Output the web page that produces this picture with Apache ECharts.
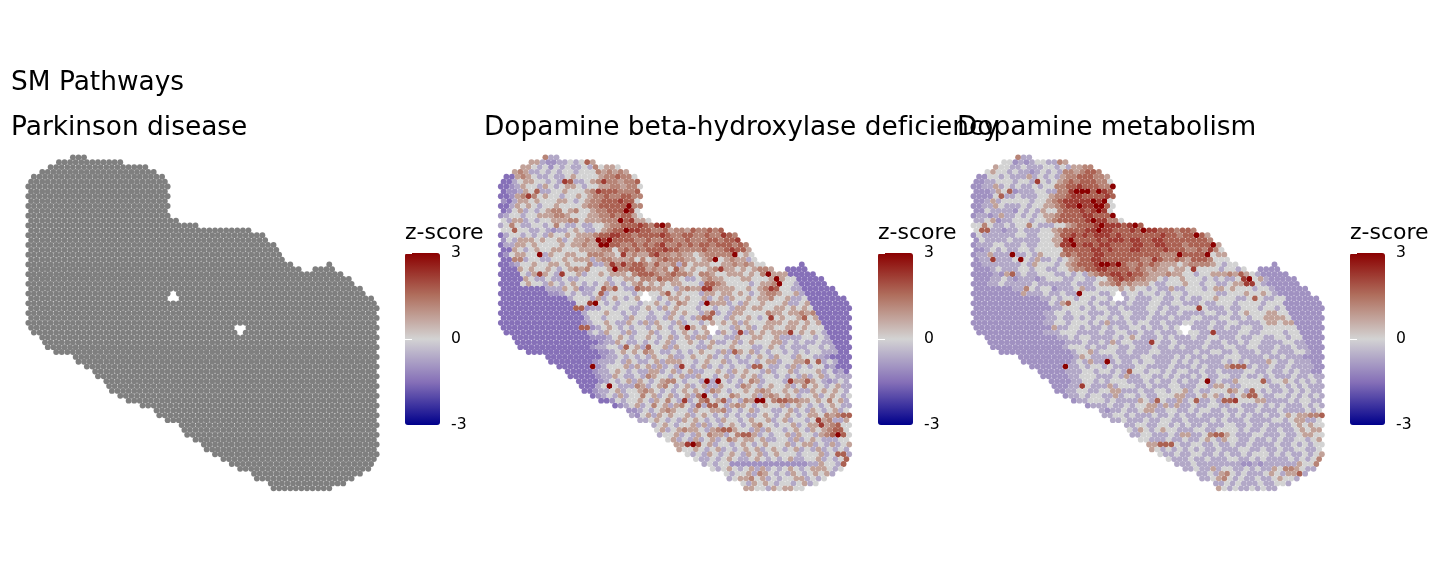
<!DOCTYPE html>
<html>
<head>
<meta charset="utf-8">
<style>html,body{margin:0;padding:0;background:#fff}#c{width:1440px;height:576px}</style>
<script src="https://cdn.jsdelivr.net/npm/echarts@6/dist/echarts.min.js"></script>
</head>
<body>
<div id="c"></div>
<script>
const pageTitle = "SM Pathways";
const panelTitles = ["Parkinson disease", "Dopamine beta-hydroxylase deficiency", "Dopamine metabolism"];
const legendTitle = "z-score";
const zLevels = [-2.2, -1.5, -1, -0.65, 0, 0.75, 1.2, 1.7, 2.2, 3];
const rowSpans = [[16,20],[11,33],[8,42],[5,45],[2,48],[1,49],[0,50],[1,49],[0,50],[1,49],[0,50],[1,49],[0,50],[1,53],[0,60],[1,79],[0,84],[1,85],[0,88],[1,89],[0,90],[1,91],[0,94,108,108],[1,97,103,109],[0,112],[1,115],[0,116],[1,119],[0,120],[1,123],[0,124],[1,125],[0,124],[1,125],[0,124],[1,125],[2,124],[5,125],[6,124],[7,125],[10,124],[17,125],[18,124],[21,125],[24,124],[25,125],[28,124],[29,125],[30,124],[33,125],[36,124],[41,125],[46,124],[47,125],[50,124],[55,125],[56,124],[57,125],[60,124],[63,125],[64,124],[67,125],[70,124],[73,123],[76,122],[81,119],[82,116],[87,113],[88,108]];
const holes = [[28,52],[29,51],[29,53],[35,75],[35,77],[36,76]];
const panel2Rows = ["633","5532233434 75","5543424343 34364554","5653343434 4344465656 5","1156543343 3454444566 7664","1134554434 3473345666 65667","1123544354 3455434455 665664","1223545334 4544456677 76667","1125676454 4344545667 667766","2135545444 5543456677 78774","1135454344 5444456677 777866","1245343456 6456445667 77784","2344344555 6654445566 767754","4355343445 5566455566 6778554","3464334434 6433433445 6677787667 7","4474433432 3345433456 7777877667 5665766767","1344343435 4454555677 8877677778 7667766766 776","2435554544 5345565689 7777667667 7667666776 776","1335545444 4545565589 7766767678 6676767767 77666","1154345445 5444555566 4676767778 7766667666 76775","1245544435 4455446665 5465655786 6565545666 667454","1166344334 4545553566 5556464567 6665545654 565534","1123445445 5454446335 4686776575 5636455544 55656544 1","1115454454 3456564445 5667775656 4554544564 554545665 1111","1111435854 3444534454 5554677665 6766546654 4555454655 5511111","1111543343 3433444443 4455466576 6543345655 4445544455 54411111","1111454435 4345434345 3434564545 4554443466 5444434556 544311111","1111111133 3545233475 4433466554 4356553455 5544545665 4433111111","1111111112 2343433473 4444345445 4454443554 5545434566 54453111111","1111111111 1134443534 5434544434 5545445345 3544545564 453341111111","1111111111 1111448843 4344434454 3465443455 5343544544 4533451111111","1111111111 1111723344 3443345435 4544434434 4355455445 5454541111111","1111111111 1111134445 4434344344 3545443543 4355444465 5455656111111","1111111111 1111134434 4435443343 5434354344 3544543454 5445745111111","1111111111 1111123445 4335435354 4353443454 5453544455 5455454511111","1111111111 1111172345 4343443454 3453545344 4354534554 4554544411111","1111111111 1111134354 4353445344 3454345635 4353545455 544545431111","1111111111 1111222345 4344543453 4535534433 5445544533 33443431111","1111111111 1111123354 3343434534 4543453345 3454445534 3433433111","1111111111 1112334435 4537445354 4433544454 4433454343 3344343111","1111111111 1112234545 4654334343 4544353754 5343443434 34433311","1111111111 2334343435 4453345445 3434343454 3544354433 21111","1111111123 3343543345 3555443454 4534334345 5344553473 4311","1111111234 4453545353 4344345343 4344377433 4353434423 111","1111123345 4343355345 3453344543 5454435344 5344453423 1","1111123354 3343654434 5335443453 4545344343 4353453433 3","1111234345 3543456643 4435344343 4653444345 575432343","1113454333 6534564345 3453354436 5434544534 645434533","1123345344 5654343454 5436543445 4565445453 35454543","1234353446 4534534536 5434465445 3565454344 5345434","1124344543 5464353467 4563436545 4677665545 46453","1234534645 3564373434 3565434544 5345434345 433","2234345654 4354455634 3453443345 3435434534","3245354544 5345434343 4334543454 3455465676","3345434354 5434354434 5445345344 34656335","3454344535 3434543456 4434453455 456744","4534565543 5676544353 5443454354 56774","3445343546 5534677534 3445354435 66974","4534353453 4654554533 4435345433 344","5557745344 3454345444 5345534353 45","5445434534 3454534543 4534353434 3","4343543454 3545345444 3444534373","4334345433 4543434533 44534347","3434422222 2222222223 354436","4345434535 3434543455 5434","4344536543 4354345453","3455645343 44553434","4354543443 4534","5544354554 4"];
const panel2Spots = [[20,14,9],[8,10,8],[7,13,7],[5,23,8],[7,35,8],[5,37,8],[9,43,8],[10,46,9],[11,45,9],[13,43,9],[14,58,9],[14,56,8],[14,45,8],[15,45,9],[15,47,8],[17,35,9],[18,36,9],[20,44,8],[22,40,8],[23,41,9],[16,80,8],[17,85,8],[18,86,7],[19,83,8],[20,84,9],[21,77,9],[23,79,8],[23,63,7],[24,96,9],[25,99,9],[26,100,9],[27,97,8],[27,99,7],[30,74,9],[33,97,8],[35,67,9],[27,73,8],[27,75,8],[26,74,7],[26,76,7],[32,76,7],[33,73,7],[33,75,7],[36,86,8],[36,104,8],[43,65,8],[46,74,9],[46,78,9],[49,73,9],[50,66,8],[50,92,9],[50,94,9],[51,75,7],[51,77,7],[50,80,7],[54,114,8],[55,115,8],[56,117,7],[57,121,9],[57,119,7],[56,120,7],[59,67,8],[59,69,9],[53,125,7],[57,87,7],[57,89,7],[56,89,7],[43,91,7],[43,93,7],[42,110,7],[46,104,8],[56,82,7],[61,121,7],[63,123,7],[24,22,8],[27,49,7],[27,41,7],[30,32,8],[30,34,9],[31,27,7],[35,29,7],[43,33,9],[47,39,9],[39,45,7],[28,60,7],[24,54,7]];
const panel3Rows = ["633","4423234433 65","5443343334 43435566","4544343323 4343665677 6","2244343335 3434356677 7665","2233444344 3443456767 77664","2233534343 3434466778 777667","2223544233 3443366888 77787","2222463343 3344566788 777787","2235344444 3445678888 88884","2233543334 3445567888 888874","2243333243 4354467778 78884","2332353343 4345567777 887777","3345233444 3445677777 8788664","4464334344 6433344567 7778888777 7","4473323343 3344567777 8888877787 7887776776","2433333344 3344457787 8788878777 7777877677 775","2433334333 3344558877 7787887788 7788777777 776","2333443334 3344458877 8878877778 7778877767 77765","2234343344 3444447777 7887877788 7777877766 76664","2335333433 4354446767 7788777777 7777666677 774455","2333333444 3533434567 7887777777 6667667657 776444","2233333334 3544434567 7788788766 7676555456 66654344 2","2223433344 3443344566 7788777767 6565545545 444434434 2222","2222325734 3344433434 3567788787 7655565544 3445556555 4322222","2223343233 3234443344 3344678776 6554344544 4343433455 45322222","2223343333 3433333343 3345567565 5543344454 4344334556 443222222","2222222333 4344233345 3344445454 4343353344 4345545444 3443222222","2222222225 3334334334 4443343344 3443434434 4444334445 44543222222","2222222222 2233434434 4344344343 3344334343 3445444334 443344222222","2222222222 2222435344 4343343343 3344334433 3433444344 4434442222222","2222222222 2222334443 4344334333 3443433444 3433343344 4344342222222","2222222222 2223344344 4333433443 3343433433 3344334345 4445544222222","2222222222 2223343343 4344343433 3433343334 4333443343 4455554222222","2222222222 2223344344 4343533343 4433433344 3334334433 3345545522222","2222222222 2222533443 4334343344 3433434433 3343343344 3344444422222","2222222222 2233344433 3343344334 3343334344 3353333443 344443442222","2222222222 2223343443 3334345433 3434333433 4433343344 33443442222","2222222222 2222333433 4353443333 4334333334 3343343443 3334433222","2222222222 2223444343 3443343334 3343433343 3344334433 3433433222","2222222222 2223445344 4334333443 3333343344 3343334334 33344322","2222222222 3543333433 3344333343 4334333444 3333433433 32222","2222222223 4353343433 4344333434 3433334343 4333543343 3322","2222222334 3443433334 4333343334 3433355533 4334334333 322","2222233344 3443433443 4434344334 3343333443 3433434332 2","2222233444 3334353344 3343433434 3344334334 3433343343 3","2222334434 3444333434 3343433433 4335444443 445434343","2223344333 5344433433 3443334435 5433444443 343434333","2233443344 5533343344 3445343344 4654344343 34343433","2334344335 3443433444 5533454534 3454343344 3434343","2334443433 3354334335 3453343433 4445533334 34433","2333433434 4553535334 3344334433 3434343334 343","3233433455 3344334344 3343343343 3343333434","3344343334 3343433433 3343434334 3345455667","3343334334 4334333343 4333433334 43455334","3344334434 3433433344 3343343333 454544","4354345443 3344334444 3433433433 45455","3344333435 5334677543 3344333433 45544","4433343343 3454354433 4334343344 345","5557743344 3343343343 3334334343 44","5434343434 3343334433 4334334433 4","4334334433 4343343444 3434334345","4333433433 3443343433 33434346","3334333333 3322323333 335446","3343353443 3434335446 5433","3343564343 3345435573","3345643433 43345443","3343433343 3443","5434334343 3"];
const panel3Spots = [[7,37,9],[7,39,9],[7,41,9],[7,45,9],[9,37,8],[9,43,9],[9,47,9],[10,38,9],[10,40,8],[10,44,9],[10,46,9],[11,45,9],[6,50,9],[12,50,9],[13,43,9],[14,44,8],[14,46,9],[14,56,8],[14,58,9],[15,45,9],[15,47,8],[15,61,9],[17,35,9],[18,36,9],[16,43,8],[17,51,8],[17,53,8],[17,59,8],[18,60,8],[20,14,9],[21,17,9],[21,7,8],[8,10,7],[7,13,7],[5,23,8],[15,3,7],[22,46,9],[22,48,9],[22,52,9],[21,43,8],[16,80,9],[17,67,8],[18,86,9],[19,85,8],[20,74,9],[20,84,9],[21,65,8],[23,79,8],[24,96,7],[25,97,8],[25,99,9],[26,98,8],[26,100,8],[31,81,8],[36,86,8],[29,101,7],[28,38,9],[43,33,9],[42,48,9],[38,64,8],[47,39,8],[44,56,7],[30,34,7],[27,19,6],[46,84,9],[50,66,7],[50,80,7],[50,94,8],[50,92,7],[50,90,7],[46,104,7],[48,100,7],[49,99,7],[49,101,7],[53,125,7],[57,87,7],[57,89,7],[59,67,7],[59,69,7],[65,117,7],[64,112,6],[63,123,6],[43,93,7],[43,95,7],[43,97,7]];

// keep "fi" as two letters, as in the reference
const origGet = HTMLCanvasElement.prototype.getContext;
HTMLCanvasElement.prototype.getContext = function (t, o) {
  const ctx = origGet.call(this, t, o);
  if (t === '2d' && ctx && 'letterSpacing' in ctx) ctx.letterSpacing = '0.001px';
  return ctx;
};

const PX = 2.787, PY = 4.868, X0 = 28.3, Y0 = 157.3;
const panelOffsets = [0, 472.5, 945.2];
const rowCount = rowSpans.length;
const holeSet = new Set(holes.map(h => h[0] + ':' + h[1]));
function build(rows, spots) {
  const over = new Map(spots.map(s => [s[0] + ':' + s[1], s[2]]));
  const out = [];
  rowSpans.forEach((span, r) => {
    const chars = rows ? rows[r].replace(/ /g, '') : null;
    let i = 0;
    for (let k = 0; k < span.length; k += 2) {
      for (let u = span[k]; u <= span[k + 1]; u += 2) {
        const key = r + ':' + u;
        if (!holeSet.has(key)) {
          if (rows) {
            const lv = over.has(key) ? over.get(key) : +chars[i];
            out.push([u, r, zLevels[lv]]);
          } else out.push([u, r]);
        }
        i++;
      }
    }
  });
  return out;
}
const d1 = build(null, []);
const d2 = build(panel2Rows, panel2Spots);
const d3 = build(panel3Rows, panel3Spots);

const font = 'DejaVu Sans';
const titles = [{text: pageTitle, left: 11, top: 70}];
panelTitles.forEach((t, i) => titles.push({text: t, left: 11 + [0, 473, 946][i], top: 115}));
[405, 878, 1350].forEach(x => titles.push({text: legendTitle, left: x, top: 222, textStyle: {fontSize: 22, fontFamily: font, fontWeight: 'normal', color: '#000'}, padding: 0}));
titles.forEach(t => { t.padding = 0; t.textStyle = t.textStyle || {fontSize: 26.4, fontFamily: font, fontWeight: 'normal', color: '#000'}; });

const grids = [], xAxes = [], yAxes = [], series = [], vms = [];
panelOffsets.forEach((off, i) => {
  grids.push({left: X0 + off, top: Y0, width: 125 * PX, height: (rowCount - 1) * PY});
  xAxes.push({type: 'value', gridIndex: i, min: 0, max: 125, show: false});
  yAxes.push({type: 'value', gridIndex: i, min: 0, max: rowCount - 1, inverse: true, show: false});
});
const pts = [d1, d2, d3];
pts.forEach((d, i) => series.push({
  type: 'scatter', xAxisIndex: i, yAxisIndex: i, data: d, symbol: 'circle', symbolSize: 5.8,
  clip: false, silent: true, progressive: 0, large: false,
  itemStyle: i === 0 ? {color: '#7f7f7f', opacity: 1} : {opacity: 1}
}));
series.push({type: 'scatter', xAxisIndex: 0, yAxisIndex: 0, data: []});
const ramp = ['#00008b', '#8670b8', '#d3d3d3', '#b0705f', '#8b0000'];
[405, 878, 1350].forEach((x, i) => {
  vms.push({
    type: 'continuous', min: -3, max: 3, dimension: 2, seriesIndex: i === 0 ? 3 : i,
    left: x, top: 253, itemWidth: 35, itemHeight: 172, padding: 0, calculable: false,
    borderRadius: 0, text: null, showLabel: false, hoverLink: false, inRange: {color: ramp}, realtime: false
  });
  const g = grids.length;
  grids.push({left: x, top: 253, width: 35, height: 172});
  xAxes.push({type: 'value', gridIndex: g, min: 0, max: 1, show: false});
  const base = {type: 'value', gridIndex: g, min: -3, max: 3, interval: 3, z: 20,
    axisLine: {show: false}, splitLine: {show: false},
    axisTick: {show: true, inside: true, length: 7, lineStyle: {color: '#fff', width: 1}}};
  yAxes.push(Object.assign({}, base, {position: 'right',
    axisLabel: {show: true, margin: 11, fontSize: 15.6, fontFamily: font, color: '#000', padding: [2, 0, 0, 0]}}));
  yAxes.push(Object.assign({}, base, {position: 'left', axisLabel: {show: false}}));
});
const chart = echarts.init(document.getElementById('c'), null, {renderer: 'canvas'});
chart.setOption({
  animation: false, backgroundColor: '#fff', title: titles, grid: grids,
  xAxis: xAxes, yAxis: yAxes, visualMap: vms, series: series
});
</script>
</body>
</html>
